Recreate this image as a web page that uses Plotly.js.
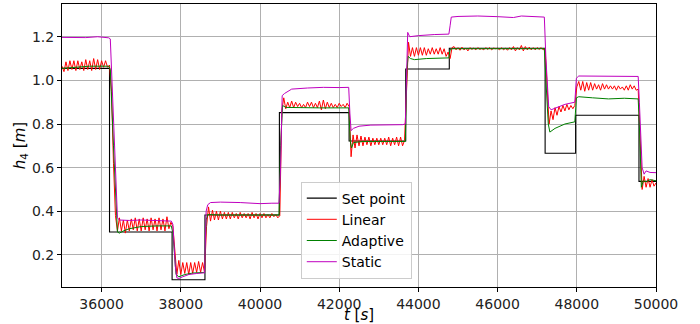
<!DOCTYPE html>
<html>
<head>
<meta charset="utf-8">
<script src="https://cdn.plot.ly/plotly-3.0.1.min.js"></script>
<style>body{margin:0;padding:0;background:#fff;} #chart{width:700px;height:324px;}</style>
</head>
<body>
<div id="chart"></div>
<script>
// Set point (step changes)
var setT = [35000, 36200, 37780, 38610, 40490, 42250, 43680, 44780, 47200, 47970, 49570, 50000];
var setV = [1.055, 0.305, 0.086, 0.383, 0.852, 0.722, 1.052, 1.147, 0.666, 0.840, 0.537, 0.537];

// Linear controller, sampled every 50 s from 35000 s
var linStart = 35000;
var linStep = 50;
var linV = [
  1.065, 1.040, 1.085, 1.045, 1.090, 1.050, 1.090, 1.045, 1.090, 1.050,
  1.085, 1.045, 1.095, 1.050, 1.090, 1.045, 1.100, 1.050, 1.095, 1.050,
  1.090, 1.060, 1.090, 1.060, 1.070, 0.950, 0.620, 0.380, 0.310, 0.370,
  0.310, 0.360, 0.300, 0.360, 0.310, 0.365, 0.315, 0.370, 0.310, 0.365,
  0.310, 0.370, 0.315, 0.365, 0.310, 0.370, 0.315, 0.365, 0.310, 0.370,
  0.315, 0.365, 0.310, 0.375, 0.320, 0.350, 0.330, 0.200, 0.110, 0.175,
  0.110, 0.165, 0.115, 0.165, 0.110, 0.165, 0.115, 0.165, 0.120, 0.170,
  0.120, 0.165, 0.120, 0.330, 0.420, 0.355, 0.405, 0.360, 0.400, 0.360,
  0.400, 0.365, 0.395, 0.365, 0.395, 0.365, 0.395, 0.370, 0.390, 0.365,
  0.395, 0.370, 0.390, 0.370, 0.390, 0.365, 0.395, 0.370, 0.390, 0.365,
  0.390, 0.370, 0.390, 0.370, 0.385, 0.370, 0.390, 0.375, 0.385, 0.370,
  0.380, 0.860, 0.920, 0.870, 0.900, 0.875, 0.905, 0.875, 0.900, 0.880,
  0.895, 0.875, 0.890, 0.875, 0.900, 0.880, 0.900, 0.875, 0.895, 0.875,
  0.905, 0.865, 0.910, 0.870, 0.900, 0.875, 0.895, 0.875, 0.890, 0.875,
  0.895, 0.880, 0.890, 0.875, 0.895, 0.880, 0.650, 0.750, 0.690, 0.750,
  0.700, 0.745, 0.700, 0.740, 0.705, 0.740, 0.700, 0.735, 0.705, 0.735,
  0.705, 0.735, 0.705, 0.735, 0.705, 0.740, 0.700, 0.735, 0.705, 0.740,
  0.700, 0.740, 0.700, 0.725, 0.980, 1.175, 1.110, 1.150, 1.110, 1.150,
  1.115, 1.150, 1.115, 1.150, 1.115, 1.145, 1.120, 1.150, 1.120, 1.145,
  1.120, 1.150, 1.120, 1.145, 1.110, 1.130, 1.100, 1.150, 1.155, 1.140,
  1.150, 1.138, 1.152, 1.140, 1.148, 1.135, 1.150, 1.142, 1.148, 1.140,
  1.150, 1.142, 1.146, 1.140, 1.150, 1.142, 1.150, 1.140, 1.148, 1.145,
  1.147, 1.140, 1.150, 1.140, 1.148, 1.138, 1.150, 1.140, 1.155, 1.135,
  1.150, 1.140, 1.160, 1.135, 1.155, 1.140, 1.152, 1.140, 1.150, 1.140,
  1.150, 1.142, 1.150, 1.140, 1.145, 0.950, 0.800, 0.860, 0.820, 0.875,
  0.840, 0.880, 0.855, 0.885, 0.860, 0.890, 0.865, 0.885, 0.870, 0.885,
  0.970, 0.995, 0.955, 0.995, 0.950, 0.990, 0.955, 0.990, 0.955, 0.985,
  0.960, 0.980, 0.955, 0.985, 0.960, 0.980, 0.960, 0.975, 0.960, 0.975,
  0.955, 0.975, 0.960, 0.970, 0.955, 0.975, 0.955, 0.980, 0.960, 0.975,
  0.955, 0.960, 0.750, 0.500, 0.560, 0.510, 0.550, 0.510, 0.545, 0.515,
  0.530
];

// Adaptive controller
var adaT = [35000, 35300, 35700, 36180, 36220, 36300, 36400, 36450, 36550, 36700,
  37000, 37400, 37760, 37800, 37880, 37950, 38100, 38300, 38600, 38640,
  38680, 39000, 39500, 40000, 40480, 40520, 40570, 40650, 41000, 41500,
  42240, 42280, 42310, 42360, 42600, 43000, 43670, 43710, 43740, 43800,
  43900, 44200, 44770, 44800, 44850, 45500, 46500, 47180, 47220, 47280,
  47320, 47450, 47700, 47950, 47990, 48050, 48400, 48800, 49200, 49550,
  49580, 49630, 49680, 49750, 49850, 50000];
var adaV = [1.055, 1.060, 1.065, 1.065, 1.050, 0.700, 0.305, 0.300, 0.310, 0.320,
  0.330, 0.333, 0.333, 0.300, 0.110, 0.100, 0.110, 0.117, 0.120, 0.360,
  0.385, 0.383, 0.383, 0.383, 0.383, 0.700, 0.885, 0.876, 0.874, 0.874,
  0.874, 0.720, 0.690, 0.715, 0.720, 0.720, 0.720, 1.050, 1.110, 1.100,
  1.095, 1.100, 1.103, 1.140, 1.145, 1.145, 1.145, 1.145, 1.000, 0.800,
  0.763, 0.780, 0.800, 0.810, 0.920, 0.925, 0.920, 0.915, 0.918, 0.915,
  0.800, 0.510, 0.540, 0.535, 0.545, 0.540];

// Static controller
var staT = [35000, 35300, 35600, 35900, 36180, 36220, 36300, 36400, 36450, 36700,
  37000, 37400, 37760, 37800, 37860, 37900, 37950, 38050, 38200, 38400,
  38600, 38640, 38680, 38750, 39000, 39500, 40000, 40300, 40480, 40520,
  40560, 40620, 40800, 41200, 41600, 42000, 42240, 42270, 42300, 42360,
  42500, 42800, 43200, 43600, 43670, 43700, 43730, 43780, 44000, 44400,
  44770, 44800, 44830, 45000, 45500, 46000, 46400, 46600, 47000, 47180,
  47220, 47290, 47350, 47500, 47700, 47950, 47990, 48050, 48400, 48800,
  49200, 49550, 49580, 49650, 49700, 49750, 49850, 50000];
var staV = [1.197, 1.195, 1.196, 1.200, 1.195, 1.190, 0.800, 0.370, 0.360, 0.358,
  0.360, 0.357, 0.355, 0.340, 0.150, 0.095, 0.092, 0.100, 0.110, 0.115,
  0.118, 0.400, 0.430, 0.440, 0.442, 0.440, 0.435, 0.437, 0.437, 0.600,
  0.930, 0.940, 0.960, 0.965, 0.968, 0.967, 0.968, 0.850, 0.770, 0.780,
  0.790, 0.795, 0.795, 0.797, 0.800, 1.000, 1.220, 1.200, 1.205, 1.210,
  1.212, 1.250, 1.290, 1.293, 1.295, 1.292, 1.288, 1.295, 1.293, 1.290,
  1.100, 0.880, 0.865, 0.875, 0.890, 0.900, 1.010, 1.020, 1.020, 1.018,
  1.020, 1.018, 0.900, 0.600, 0.570, 0.585, 0.578, 0.577];

var xTicks = [36000, 38000, 40000, 42000, 44000, 46000, 48000, 50000];
var yTicks = [0.2, 0.4, 0.6, 0.8, 1.0, 1.2];

var traces = [
  {x: setT, y: setV, name: 'Set point', mode: 'lines', line: {color: '#000000', width: 1.1, shape: 'hv'}},
  {x0: linStart, dx: linStep, y: linV, name: 'Linear', mode: 'lines', line: {color: '#ff0000', width: 1}},
  {x: adaT, y: adaV, name: 'Adaptive', mode: 'lines', line: {color: '#008000', width: 1}},
  {x: staT, y: staV, name: 'Static', mode: 'lines', line: {color: '#bf00bf', width: 1}}
];

var font = {family: 'DejaVu Sans, sans-serif', size: 14, color: '#222'};
var layout = {
  width: 700, height: 324,
  margin: {l: 62, r: 44, t: 4, b: 37},
  paper_bgcolor: '#fff', plot_bgcolor: '#fff',
  font: font,
  showlegend: true,
  legend: {x: 0.402, y: 0.03, xanchor: 'left', yanchor: 'bottom', bgcolor: 'rgba(255,255,255,0.85)',
           bordercolor: '#cccccc', borderwidth: 1, font: {family: 'DejaVu Sans, sans-serif', size: 14, color: '#000'}},
  xaxis: {range: [35000, 50000], tickvals: xTicks, tickformat: 'd', showgrid: true, gridcolor: '#b0b0b0', gridwidth: 1,
          showline: true, linecolor: '#000', linewidth: 1, mirror: true, ticks: 'outside', ticklen: 4, tickcolor: '#000',
          zeroline: false,
          title: {text: '<i>t</i> [<i>s</i>]', font: {family: 'DejaVu Sans, sans-serif', size: 15, color: '#000'}, standoff: 2}},
  yaxis: {range: [0.053, 1.35], tickvals: yTicks, tickformat: '.1f', showgrid: true, gridcolor: '#b0b0b0', gridwidth: 1,
          showline: true, linecolor: '#000', linewidth: 1, mirror: true, ticks: 'outside', ticklen: 4, tickcolor: '#000',
          zeroline: false,
          title: {text: '<i>h</i><sub>4</sub> [<i>m</i>]', font: {family: 'DejaVu Sans, sans-serif', size: 15, color: '#000'}, standoff: 2}}
};

Plotly.newPlot('chart', traces, layout, {displayModeBar: false, staticPlot: true});
</script>
</body>
</html>
